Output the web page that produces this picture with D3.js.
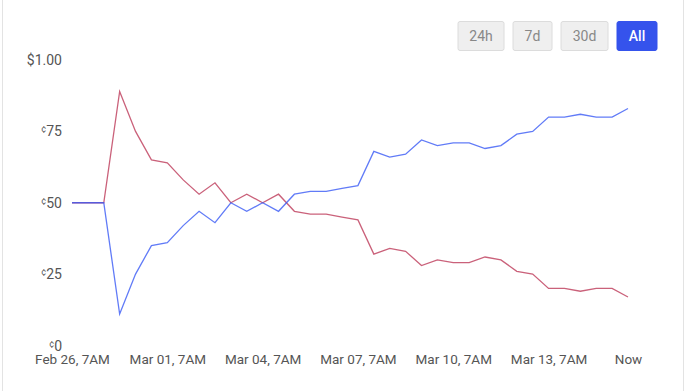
<!DOCTYPE html>
<html>

<head>
    <meta charset='utf-8'>
</head>
<style>
    * {
        font-family: 'Roboto', sans-serif;
    }
    body {
        margin: 0;
        background: #fff;
    }
</style>

<body>
    <svg width="688" height="391"></svg>
    <script src="https://d3js.org/d3.v7.min.js"></script>
    <script>
        // one point every 12 hours, from Feb 26 7AM until now
        var startTime = Date.UTC(2021, 1, 26, 7);
        var stepHours = 12;
        var yesValues = [50, 50, 50, 11, 25, 35, 36, 42, 47, 43, 50, 47, 50, 47, 53, 54, 54, 55,
            56, 68, 66, 67, 72, 70, 71, 71, 69, 70, 74, 75, 80, 80, 81, 80, 80, 83];
        var noValues = [50, 50, 50, 89, 75, 65, 64, 58, 53, 57, 50, 53, 50, 53, 47, 46, 46, 45,
            44, 32, 34, 33, 28, 30, 29, 29, 31, 30, 26, 25, 20, 20, 19, 20, 20, 17];
        var yTicks = [0, 25, 50, 75, 100];
        var xTickDays = [0, 3, 6, 9, 12, 15];
        var rangeButtons = ["24h", "7d", "30d", "All"];

        var svg = d3.select('svg');

        // card edges
        svg.append('rect')
            .attr('x', 2.5).attr('y', -20)
            .attr('width', 681).attr('height', 430)
            .attr('rx', 4)
            .attr('fill', '#fff')
            .attr('stroke', '#e3e3e3');

        var toDate = function(i) {
            return new Date(startTime + i * stepHours * 3600 * 1000);
        };
        var lastDate = toDate(yesValues.length - 1);

        var x = d3.scaleUtc()
            .domain([toDate(0), lastDate])
            .range([72, 628]);
        var y = d3.scaleLinear()
            .domain([0, 100])
            .range([345.5, 60]);

        // y labels: dollar at top, cents with little superscript sign below
        var yLab = svg.append('g')
            .selectAll('text')
            .data(yTicks)
            .enter().append('text')
            .attr('x', 62)
            .attr('y', function(d) { return y(d); })
            .attr('dy', 5)
            .attr('text-anchor', 'end')
            .attr('font-size', 14)
            .attr('fill', '#555');
        yLab.each(function(d) {
            var t = d3.select(this);
            if (d === 100) {
                t.text('$1.00');
            } else {
                t.append('tspan')
                    .attr('font-size', 9)
                    .attr('dy', 1)
                    .text('¢');
                t.append('tspan')
                    .attr('dy', 4)
                    .text(d);
            }
        });

        // x labels
        var fmt = d3.utcFormat('%b %d, %-I%p');
        var xTickDates = xTickDays.map(function(k) {
            return new Date(startTime + k * 24 * 3600 * 1000);
        });
        var xAxis = d3.axisBottom(x)
            .tickValues(xTickDates.concat([lastDate]))
            .tickSize(0)
            .tickFormat(function(d) {
                return +d === +lastDate ? 'Now' : fmt(d);
            });
        var ax = svg.append('g')
            .attr('transform', 'translate(0,351.5)')
            .call(xAxis);
        ax.select('.domain').remove();
        ax.selectAll('text')
            .attr('font-size', 13.5)
            .attr('font-family', 'Roboto')
            .attr('fill', '#555');

        // lines
        var line = d3.line()
            .x(function(d, i) { return x(toDate(i)); })
            .y(function(d) { return y(d); });

        svg.append('path')
            .datum(noValues)
            .attr('d', line)
            .attr('fill', 'none')
            .attr('stroke', '#c4506c')
            .attr('stroke-width', 1.3)
            .attr('stroke-opacity', 0.9);
        svg.append('path')
            .datum(yesValues)
            .attr('d', line)
            .attr('fill', 'none')
            .attr('stroke', '#3a5af5')
            .attr('stroke-width', 1.3)
            .attr('stroke-opacity', 0.8);

        // range buttons
        var btnX = [458, 513, 561, 617];
        var btnW = [46, 39, 47, 40];
        var btn = svg.append('g')
            .selectAll('g')
            .data(rangeButtons)
            .enter().append('g')
            .attr('transform', function(d, i) { return 'translate(' + btnX[i] + ',21.5)'; });
        btn.append('rect')
            .attr('width', function(d, i) { return btnW[i]; })
            .attr('height', 29)
            .attr('rx', 2)
            .attr('fill', function(d) { return d === 'All' ? '#3553ec' : '#efefef'; })
            .attr('stroke', function(d) { return d === 'All' ? '#3553ec' : '#dcdcdc'; });
        btn.append('text')
            .attr('x', function(d, i) { return btnW[i] / 2; })
            .attr('y', 15)
            .attr('dy', '0.35em')
            .attr('text-anchor', 'middle')
            .attr('font-size', 14)
            .attr('font-weight', function(d) { return d === 'All' ? 500 : 400; })
            .attr('fill', function(d) { return d === 'All' ? '#fff' : '#888'; })
            .text(function(d) { return d; });
    </script>
</body>

</html>
